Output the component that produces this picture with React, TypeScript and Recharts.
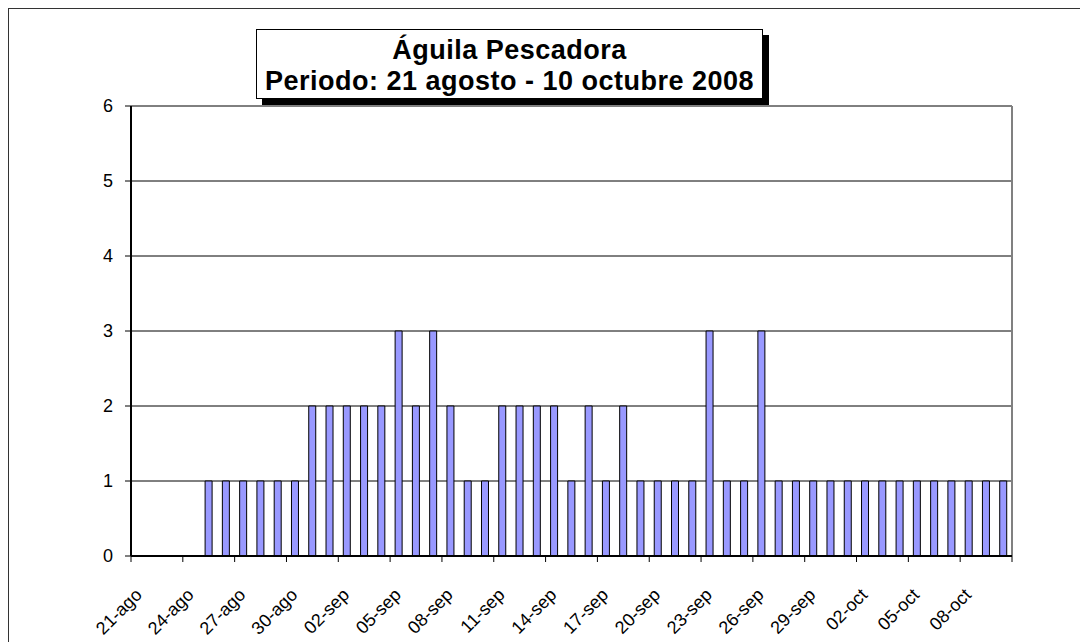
import React from 'react';
import { BarChart, Bar, XAxis, YAxis, CartesianGrid, ReferenceLine } from 'recharts';

const FONT = '"Liberation Sans", Arial, sans-serif';

const dates = [
  '21-ago', '22-ago', '23-ago', '24-ago', '25-ago', '26-ago', '27-ago', '28-ago', '29-ago', '30-ago', '31-ago',
  '01-sep', '02-sep', '03-sep', '04-sep', '05-sep', '06-sep', '07-sep', '08-sep', '09-sep', '10-sep',
  '11-sep', '12-sep', '13-sep', '14-sep', '15-sep', '16-sep', '17-sep', '18-sep', '19-sep', '20-sep',
  '21-sep', '22-sep', '23-sep', '24-sep', '25-sep', '26-sep', '27-sep', '28-sep', '29-sep', '30-sep',
  '01-oct', '02-oct', '03-oct', '04-oct', '05-oct', '06-oct', '07-oct', '08-oct', '09-oct', '10-oct',
];

const counts = [
  0, 0, 0, 0, 1, 1, 1, 1, 1, 1, 2,
  2, 2, 2, 2, 3, 2, 3, 2, 1, 1,
  2, 2, 2, 2, 1, 2, 1, 2, 1, 1,
  1, 1, 3, 1, 1, 3, 1, 1, 1, 1,
  1, 1, 1, 1, 1, 1, 1, 1, 1, 1,
];

// tick marks every 3 days, on the day boundaries
const dayTicks = [0, 3, 6, 9, 12, 15, 18, 21, 24, 27, 30, 33, 36, 39, 42, 45, 48, 51];
const yTicks = [0, 1, 2, 3, 4, 5, 6];

const data = dates.map((d, i) => ({ date: d, i, n: counts[i] }));

const DateTick = (props: any) => {
  const { x, y, payload } = props;
  const label = dates[payload.value] ?? '';
  if (!label) return null;
  const ax = x + 12;
  const ay = y + 32;
  return (
    <text
      x={ax}
      y={ay}
      textAnchor="end"
      fontFamily={FONT}
      fontSize={18}
      fill="#000"
      transform={`rotate(-45, ${ax}, ${ay})`}
    >
      {label}
    </text>
  );
};

export default function App() {
  return (
    <div style={{ position: 'relative', width: 1080, height: 634 }}>
      <div
        style={{
          position: 'absolute',
          left: -1,
          top: -1,
          width: 1100,
          height: 700,
          borderTop: '2px solid #333',
          borderLeft: '2px solid #333',
          boxSizing: 'border-box',
        }}
      />
      <BarChart
        width={1080}
        height={634}
        data={data}
        margin={{ top: 98, right: 76, bottom: 26, left: 63 }}
        barCategoryGap="55%"
      >
        <CartesianGrid vertical={false} stroke="#000" strokeWidth={1} />
        <XAxis xAxisId="cat" dataKey="date" orientation="top" height={0} hide />
        <XAxis
          xAxisId="num"
          dataKey="i"
          type="number"
          domain={[0, 51]}
          ticks={dayTicks}
          interval={0}
          height={60}
          axisLine={{ stroke: '#000', strokeWidth: 2 }}
          tickLine={{ stroke: '#000' }}
          tickSize={6}
          tick={<DateTick />}
        />
        <YAxis
          domain={[0, 6]}
          ticks={yTicks}
          interval={0}
          width={60}
          axisLine={{ stroke: '#000', strokeWidth: 2 }}
          tickLine={{ stroke: '#000' }}
          tickSize={6}
          tickMargin={12}
          tick={{ fontFamily: FONT, fontSize: 18, fill: '#000' }}
        />
        <ReferenceLine y={6} xAxisId="num" stroke="#808080" strokeWidth={1} />
        <ReferenceLine x={51} xAxisId="num" stroke="#808080" strokeWidth={2} />
        <Bar
          xAxisId="cat"
          dataKey="n"
          fill="#9999FF"
          stroke="#000"
          strokeWidth={1}
          barSize={7}
          isAnimationActive={false}
        />
      </BarChart>
      <div
        style={{
          position: 'absolute',
          left: 248,
          top: 21,
          width: 507,
          height: 70,
          boxSizing: 'border-box',
          border: '1px solid #000',
          background: '#fff',
          boxShadow: '6px 6px 0 #000',
          fontFamily: FONT,
          fontWeight: 'bold',
          fontSize: 27,
          letterSpacing: 0.5,
          lineHeight: '31px',
          textAlign: 'center',
          paddingTop: 5,
          whiteSpace: 'nowrap',
        }}
      >
        <div>Águila Pescadora</div>
        <div>Periodo: 21 agosto - 10 octubre 2008</div>
      </div>
    </div>
  );
}
